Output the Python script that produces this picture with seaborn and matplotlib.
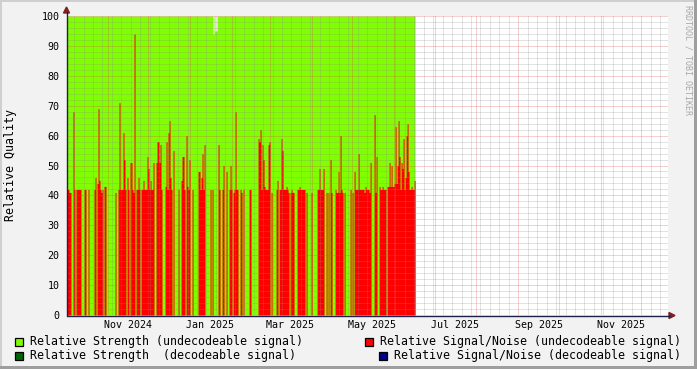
import numpy as np
import pandas as pd
import matplotlib
matplotlib.use("Agg")
import matplotlib.pyplot as plt
import matplotlib.dates as mdates
from matplotlib.ticker import MultipleLocator, NullFormatter
from matplotlib.patches import Rectangle, Polygon
from matplotlib.lines import Line2D
import matplotlib.transforms as mtransforms
import seaborn as sns

# ------------------------------------------------------------------ data
START = "2024-10-01 17:00"      # first RRD row shown
STEP = "1067min"                # one RRD row (one pixel column)
VIEW_END = "2025-12-20 22:00"   # right edge of the graph

# Relative Signal/Noise (undecodeable signal), one value per RRD row
sn_undecodeable = [
    42, 42, 41, 41, 0, 0, 68, 42, 0, 42,
    42, 42, 42, 42, 0, 0, 0, 42, 42, 0,
    0, 42, 0, 0, 0, 0, 0, 42, 46, 0,
    44, 69, 45, 42, 41, 42, 0, 43, 43, 0,
    0, 0, 0, 0, 0, 0, 0, 0, 41, 0,
    0, 42, 71, 42, 42, 42, 61, 52, 42, 0,
    46, 42, 0, 51, 51, 42, 41, 94, 0, 42,
    42, 46, 42, 0, 42, 42, 45, 42, 42, 42,
    53, 49, 42, 45, 42, 42, 51, 0, 0, 51,
    58, 58, 51, 57, 42, 0, 0, 0, 43, 58,
    42, 61, 65, 46, 42, 0, 55, 0, 0, 0,
    0, 42, 0, 0, 45, 53, 53, 42, 0, 60,
    43, 42, 52, 0, 0, 42, 0, 0, 0, 0,
    0, 48, 48, 42, 46, 54, 42, 57, 0, 0,
    0, 0, 0, 42, 0, 42, 0, 0, 0, 0,
    0, 57, 42, 0, 0, 42, 50, 0, 0, 48,
    0, 0, 42, 50, 42, 0, 41, 42, 68, 42,
    42, 0, 0, 42, 41, 0, 42, 0, 0, 0,
    0, 0, 42, 42, 0, 0, 0, 0, 0, 0,
    0, 59, 58, 62, 42, 57, 52, 43, 42, 42,
    42, 57, 58, 0, 41, 0, 0, 0, 0, 42,
    45, 0, 42, 42, 59, 55, 42, 42, 42, 43,
    42, 41, 0, 41, 42, 41, 41, 0, 0, 0,
    42, 42, 43, 42, 42, 42, 42, 42, 0, 41,
    0, 0, 0, 0, 41, 0, 0, 0, 0, 0,
    42, 42, 49, 42, 42, 42, 49, 0, 0, 41,
    0, 41, 0, 52, 41, 0, 0, 0, 42, 41,
    41, 48, 41, 60, 42, 41, 0, 41, 0, 0,
    0, 0, 0, 42, 0, 41, 0, 48, 42, 42,
    42, 54, 42, 42, 42, 42, 42, 41, 43, 42,
    42, 42, 41, 51, 0, 0, 0, 67, 41, 53,
    0, 0, 43, 42, 42, 43, 42, 42, 42, 0,
    43, 43, 51, 43, 50, 43, 43, 44, 63, 44,
    50, 65, 53, 42, 51, 49, 59, 42, 46, 60,
    64, 48, 42, 42, 43, 42, 42, 45,
]
# Relative Strength (undecodeable signal)
strength_undecodeable = [100] * 146 + [94, 100, 95, 95] + [100] * 198
# decodeable series: no samples in this period
strength_decodeable = [0] * 348
sn_decodeable = [0] * 348

y_ticks = [0, 10, 20, 30, 40, 50, 60, 70, 80, 90, 100]
x_labels = ["Nov 2024", "Jan 2025", "Mar 2025", "May 2025",
            "Jul 2025", "Sep 2025", "Nov 2025"]
x_label_dates = ["2024-11-16", "2025-01-16", "2025-03-16", "2025-05-16",
                 "2025-07-16", "2025-09-16", "2025-11-16"]

legend_labels = ["Relative Strength (undecodeable signal)",
                 "Relative Signal/Noise (undecodeable signal)",
                 "Relative Strength  (decodeable signal)",
                 "Relative Signal/Noise (decodeable signal)"]

GREEN = "#80FF00"
RED = "#FF0000"
DKGREEN = "#006600"
NAVY = "#000090"

# ------------------------------------------------------------------ style
sns.set_style("white")
plt.rcParams["font.family"] = ["DejaVu Sans Mono", "DejaVu Sans"]

W, H = 697, 369


def fx(px):
    return px / W


def fy(py):
    return 1 - py / H


fig = plt.figure(figsize=(W / 100, H / 100), dpi=100, facecolor="#F2F2F2")
ax = fig.add_axes([fx(67), fy(315), fx(668) - fx(67), fy(16) - fy(315)])
ax.set_facecolor("white")

n = len(sn_undecodeable)
times = pd.date_range(START, periods=n + 1, freq=STEP)
edges = [float(v) for v in mdates.date2num(times.to_pydatetime())]
centers = [(a + b) / 2 for a, b in zip(edges[:-1], edges[1:])]

df = pd.DataFrame({"t": centers,
                   "strength": strength_undecodeable,
                   "sn": sn_undecodeable})

sns.histplot(data=df, x="t", weights="strength", bins=edges,
             element="step", fill=True, color=GREEN, alpha=1, linewidth=0,
             ax=ax)
sns.histplot(data=df, x="t", weights="sn", bins=edges,
             element="step", fill=True, color=RED, alpha=1, linewidth=0,
             ax=ax)

ax.set_xlim(mdates.date2num(pd.Timestamp(START)),
            mdates.date2num(pd.Timestamp(VIEW_END)))
ax.set_ylim(0, 100)
ax.set_xlabel("")
ax.set_ylabel("")

# grid on top of the areas, like rrdtool
ax.set_axisbelow(False)
ax.xaxis.set_major_locator(mdates.MonthLocator())
ax.xaxis.set_minor_locator(mdates.WeekdayLocator(byweekday=mdates.MO))
ax.xaxis.set_major_formatter(NullFormatter())
ax.set_yticks(y_ticks)
ax.yaxis.set_minor_locator(MultipleLocator(2))
ax.grid(which="minor", color="#8F8F8F", alpha=0.5, linewidth=0.72,
        linestyle=(0, (1, 1)))
ax.grid(which="major", color="#DE4F4F", alpha=0.55, linewidth=0.72,
        linestyle=(0, (1, 1)))

ax.tick_params(axis="x", which="both", length=0, labelbottom=False)
ax.tick_params(axis="y", which="major", length=3, width=0.8,
               color="#1F1F1F", direction="out", pad=2.5,
               labelsize=7.2, labelcolor="black")
ax.tick_params(axis="y", which="minor", length=1.5, width=0.6,
               color="#8F8F8F", direction="out")
for s in ax.spines.values():
    s.set_visible(False)

# x labels centred mid-month (rrdtool style)
trans = mtransforms.blended_transform_factory(ax.transData, ax.transAxes)
for lab, d in zip(x_labels, x_label_dates):
    ax.text(mdates.date2num(pd.Timestamp(d)), -(328 - 315) / 299, lab,
            transform=trans, ha="center", va="baseline", fontsize=7.2,
            color="black")

# axes lines with arrows
AXC = "#202048"
ARC = "#801F1F"
fig.add_artist(Line2D([fx(67), fx(670)], [fy(315.5), fy(315.5)],
                      color=AXC, linewidth=1.0, transform=fig.transFigure))
fig.add_artist(Line2D([fx(66.5), fx(66.5)], [fy(315.5), fy(12)],
                      color=AXC, linewidth=1.0, transform=fig.transFigure))
fig.add_artist(Polygon([[fx(669), fy(312.5)], [fx(669), fy(318.5)],
                        [fx(675), fy(315.5)]], closed=True, color=ARC,
                       transform=fig.transFigure))
fig.add_artist(Polygon([[fx(63.5), fy(13)], [fx(69.5), fy(13)],
                        [fx(66.5), fy(7)]], closed=True, color=ARC,
                       transform=fig.transFigure))

# y label and watermark
fig.text(fx(11), fy(165), "Relative Quality", rotation=90, ha="center",
         va="center", fontsize=8.4, color="black")
fig.text(fx(688), fy(60), "RRDTOOL / TOBI OETIKER", rotation=270,
         ha="center", va="center", fontsize=6, color="#A8A8A8")

# legend
items = [(15, 345, GREEN, 30, legend_labels[0]),
         (365, 345, RED, 380, legend_labels[1]),
         (15, 359, DKGREEN, 30, legend_labels[2]),
         (379, 359, NAVY, 394, legend_labels[3])]
for sx, base, col, tx, lab in items:
    fig.add_artist(Rectangle((fx(sx), fy(base + 0.5)), 8 / W, 8 / H,
                             facecolor=col, edgecolor="black",
                             linewidth=0.9, transform=fig.transFigure))
    fig.text(fx(tx), fy(base), lab, ha="left", va="baseline",
             fontsize=8.42, color="black")

# 3D frame
fig.add_artist(Rectangle((0, 0), 2 / W, 1, facecolor="#CFCFCF",
                         edgecolor="none", transform=fig.transFigure))
fig.add_artist(Rectangle((0, 1 - 2 / H), 1, 2 / H, facecolor="#CFCFCF",
                         edgecolor="none", transform=fig.transFigure))
fig.add_artist(Rectangle((1 - 3 / W, 0), 3 / W, 1, facecolor="#9E9E9E",
                         edgecolor="none", transform=fig.transFigure))
fig.add_artist(Rectangle((0, 0), 1, 3 / H, facecolor="#9E9E9E",
                         edgecolor="none", transform=fig.transFigure))

fig.savefig("out.png", dpi=100, facecolor=fig.get_facecolor())
